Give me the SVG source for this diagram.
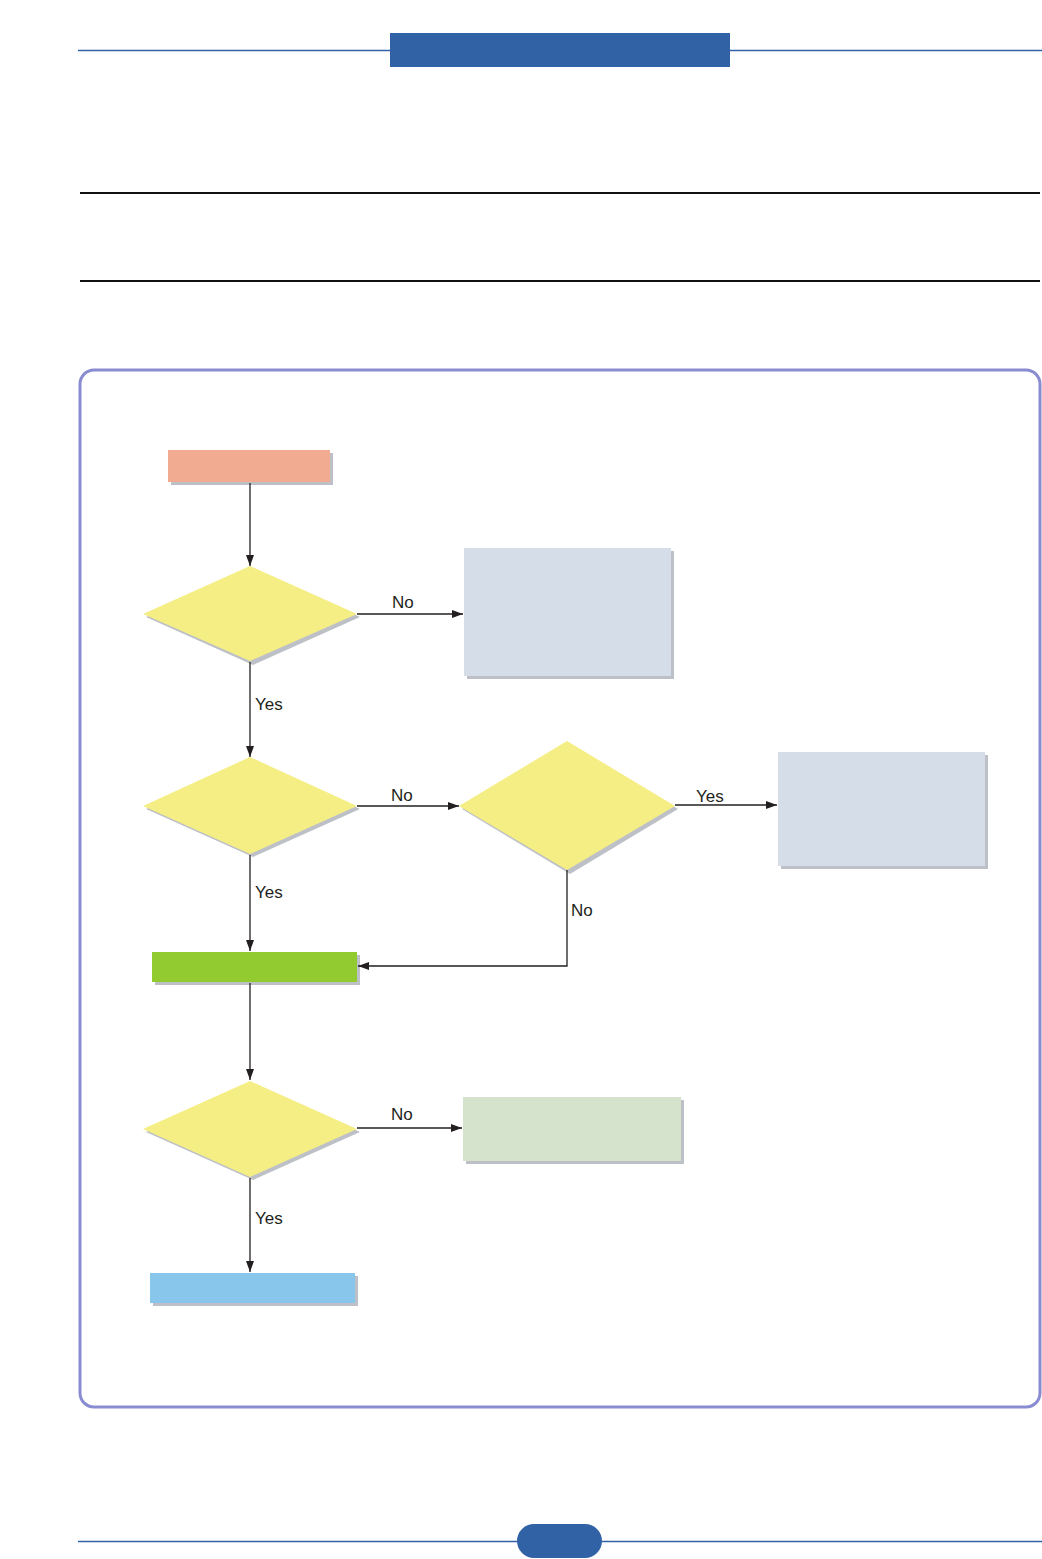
<svg xmlns="http://www.w3.org/2000/svg" width="1042" height="1559" viewBox="0 0 1042 1559">
<style>
.sh{fill:#BDC0C7}
.dia{fill:#F5EE85}
.cn{stroke:#231F20;stroke-width:1.3;fill:none}
.lbl{font-family:"Liberation Sans",Arial,sans-serif;font-size:17px;fill:#231F20}
.rule{stroke:#111111;stroke-width:2}
.blue{fill:#3162A6}
</style>
<defs>
<marker id="ah" viewBox="0 0 11 8" refX="11" refY="4" markerWidth="11" markerHeight="8" markerUnits="userSpaceOnUse" orient="auto">
<path d="M0,0 L11,4 L0,8 Z" fill="#231F20"/>
</marker>
</defs>
<rect width="1042" height="1559" fill="#FFFFFF"/>
<g id="header">
<line x1="78" y1="50.5" x2="1042" y2="50.5" stroke="#3162A6" stroke-width="1.5"/>
<rect class="blue" x="390" y="33" width="340" height="34"/>
</g>
<g id="rules">
<line class="rule" x1="80" y1="193" x2="1040" y2="193"/>
<line class="rule" x1="80" y1="281" x2="1040" y2="281"/>
</g>
<g id="frame">
<rect x="80" y="370" width="960" height="1037" rx="14" ry="14" fill="none" stroke="#8A8CD2" stroke-width="3"/>
</g>
<g id="start">
<rect class="sh" x="171" y="453" width="162" height="32"/>
<rect x="168" y="450" width="162" height="32" fill="#F0AB91"/>
</g>
<g id="decision1">
<polygon class="sh" points="253,569 360,617 253,665 146,617"/>
<polygon class="dia" points="250,566 357,614 250,661 143,614"/>
</g>
<g id="box1">
<rect class="sh" x="467" y="551" width="207" height="128"/>
<rect x="464" y="548" width="207" height="128" fill="#D5DDE8"/>
</g>
<g id="decision2">
<polygon class="sh" points="253,760 360,809 253,857 146,809"/>
<polygon class="dia" points="250,757 357,806 250,854 143,806"/>
</g>
<g id="decision3">
<polygon class="sh" points="570,744 678,809 570,874 462,809"/>
<polygon class="dia" points="567,741 675,806 567,870 459,806"/>
</g>
<g id="box2">
<rect class="sh" x="781" y="755" width="207" height="114"/>
<rect x="778" y="752" width="207" height="114" fill="#D5DDE8"/>
</g>
<g id="green">
<rect class="sh" x="155" y="955" width="205" height="30"/>
<rect x="152" y="952" width="205" height="30" fill="#92CB30"/>
</g>
<g id="decision4">
<polygon class="sh" points="253,1084 360,1132 253,1180 146,1132"/>
<polygon class="dia" points="250,1081 357,1129 250,1177 143,1129"/>
</g>
<g id="box3">
<rect class="sh" x="466" y="1100" width="218" height="64"/>
<rect x="463" y="1097" width="218" height="64" fill="#D5E2CC"/>
</g>
<g id="end">
<rect class="sh" x="153" y="1276" width="205" height="30"/>
<rect x="150" y="1273" width="205" height="30" fill="#89C6EB"/>
</g>
<g id="connectors">
<line class="cn" x1="250" y1="483" x2="250" y2="566" marker-end="url(#ah)"/>
<line class="cn" x1="357" y1="614" x2="463" y2="614" marker-end="url(#ah)"/>
<line class="cn" x1="250" y1="662" x2="250" y2="757" marker-end="url(#ah)"/>
<line class="cn" x1="357" y1="806" x2="459" y2="806" marker-end="url(#ah)"/>
<line class="cn" x1="675" y1="805" x2="777" y2="805" marker-end="url(#ah)"/>
<polyline class="cn" points="567,870 567,966 358,966" marker-end="url(#ah)"/>
<line class="cn" x1="250" y1="855" x2="250" y2="951" marker-end="url(#ah)"/>
<line class="cn" x1="250" y1="983" x2="250" y2="1080" marker-end="url(#ah)"/>
<line class="cn" x1="357" y1="1128" x2="462" y2="1128" marker-end="url(#ah)"/>
<line class="cn" x1="250" y1="1178" x2="250" y2="1272" marker-end="url(#ah)"/>
</g>
<g id="labels">
<text class="lbl" x="392" y="608">No</text>
<text class="lbl" x="255" y="710">Yes</text>
<text class="lbl" x="391" y="801">No</text>
<text class="lbl" x="696" y="802">Yes</text>
<text class="lbl" x="255" y="898">Yes</text>
<text class="lbl" x="571" y="916">No</text>
<text class="lbl" x="391" y="1120">No</text>
<text class="lbl" x="255" y="1224">Yes</text>
</g>
<g id="footer">
<line x1="78" y1="1541.5" x2="1042" y2="1541.5" stroke="#3162A6" stroke-width="1.5"/>
<rect class="blue" x="517" y="1524" width="85" height="34" rx="17" ry="17"/>
</g>
</svg>
